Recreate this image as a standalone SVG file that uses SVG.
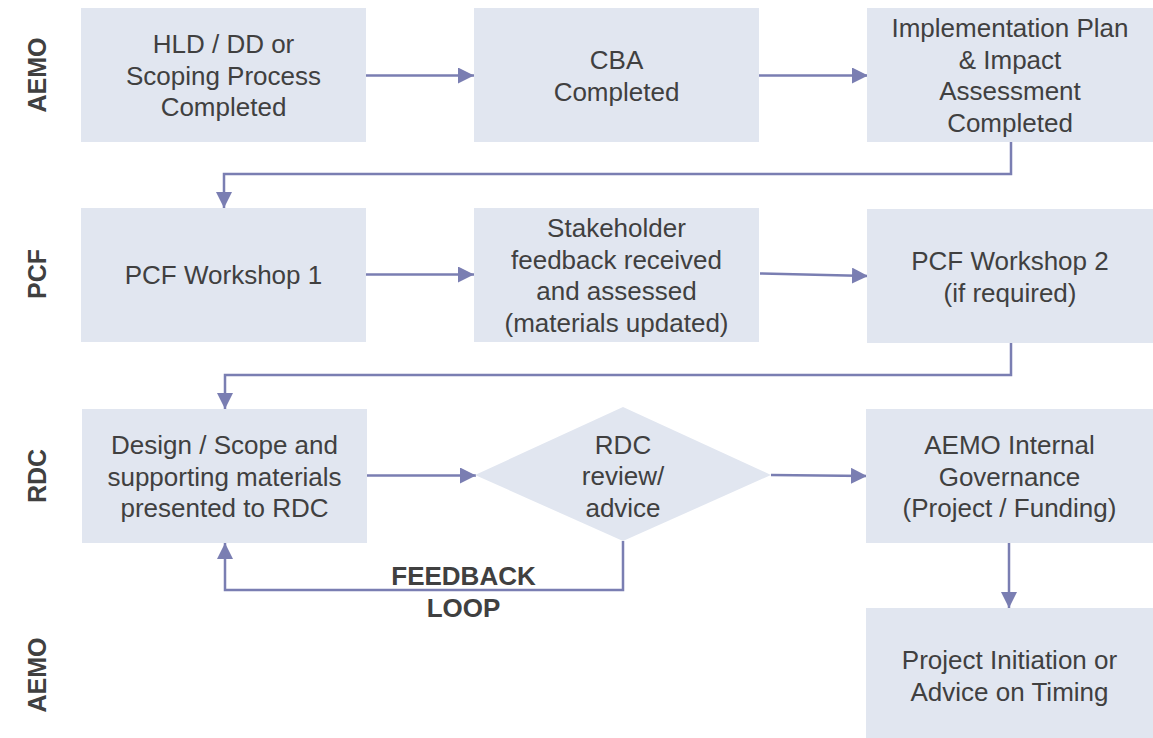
<svg xmlns="http://www.w3.org/2000/svg" width="1153" height="738" viewBox="0 0 1153 738">
  <defs>
    <style>
      .box { fill: #E1E6F0; }
      .t { font-family: "Liberation Sans", Arial, sans-serif; font-size: 26px; fill: #404040; text-anchor: middle; }
      .lane { font-family: "Liberation Sans", Arial, sans-serif; font-size: 25px; font-weight: bold; fill: #404040; text-anchor: middle; }
      .fb { font-family: "Liberation Sans", Arial, sans-serif; font-size: 26px; font-weight: bold; fill: #404040; text-anchor: middle; }
      .c { fill: none; stroke: #7A7EB2; stroke-width: 2.5; }
    </style>
    <marker id="ah" viewBox="0 0 16 16" refX="16" refY="8" markerWidth="16" markerHeight="16" markerUnits="userSpaceOnUse" orient="auto">
      <path d="M0,0 L16,8 L0,16 Z" fill="#7A7EB2"/>
    </marker>
  </defs>
  <rect width="1153" height="738" fill="#FFFFFF"/>

  <g id="lanes">
    <text class="lane" transform="translate(45.5,75) rotate(-90)">AEMO</text>
    <text class="lane" transform="translate(45.5,274) rotate(-90)">PCF</text>
    <text class="lane" transform="translate(45.5,476) rotate(-90)">RDC</text>
    <text class="lane" transform="translate(45.5,675) rotate(-90)">AEMO</text>
  </g>

  <g id="connectors">
    <path class="c" d="M366,75.5 L474,75.5" marker-end="url(#ah)"/>
    <path class="c" d="M759,75.5 L868,75.5" marker-end="url(#ah)"/>
    <path class="c" d="M1011,142 L1011,174 L224,174 L224,208" marker-end="url(#ah)"/>
    <path class="c" d="M366,274.5 L474,274.5" marker-end="url(#ah)"/>
    <path class="c" d="M760,273.5 L868,276" marker-end="url(#ah)"/>
    <path class="c" d="M1011,342 L1011,375 L225,375 L225,409" marker-end="url(#ah)"/>
    <path class="c" d="M367,475.5 L476,475.5" marker-end="url(#ah)"/>
    <path class="c" d="M771,475 L867,476" marker-end="url(#ah)"/>
    <path class="c" d="M1009,543 L1009,608" marker-end="url(#ah)"/>
    <path class="c" d="M623,541 L623,590 L225,590 L225,543" marker-end="url(#ah)"/>
  </g>

  <g id="n-hld">
    <rect class="box" x="81" y="8" width="285" height="134"/>
    <text class="t" x="223.5" y="53">HLD / DD or</text>
    <text class="t" x="223.5" y="84.5">Scoping Process</text>
    <text class="t" x="223.5" y="116">Completed</text>
  </g>
  <g id="n-cba">
    <rect class="box" x="474" y="8" width="285" height="134"/>
    <text class="t" x="616.5" y="69">CBA</text>
    <text class="t" x="616.5" y="100.5">Completed</text>
  </g>
  <g id="n-impl">
    <rect class="box" x="867" y="8" width="286" height="134"/>
    <text class="t" x="1010" y="37">Implementation Plan</text>
    <text class="t" x="1010" y="68.5">&amp; Impact</text>
    <text class="t" x="1010" y="100">Assessment</text>
    <text class="t" x="1010" y="131.5">Completed</text>
  </g>

  <g id="n-pcf1">
    <rect class="box" x="81" y="208" width="285" height="134"/>
    <text class="t" x="223.5" y="284">PCF Workshop 1</text>
  </g>
  <g id="n-stake">
    <rect class="box" x="474" y="208" width="285" height="134"/>
    <text class="t" x="616.5" y="237">Stakeholder</text>
    <text class="t" x="616.5" y="268.5">feedback received</text>
    <text class="t" x="616.5" y="300">and assessed</text>
    <text class="t" x="616.5" y="331.5">(materials updated)</text>
  </g>
  <g id="n-pcf2">
    <rect class="box" x="867" y="209" width="286" height="134"/>
    <text class="t" x="1010" y="270">PCF Workshop 2</text>
    <text class="t" x="1010" y="301.5">(if required)</text>
  </g>

  <g id="n-design">
    <rect class="box" x="82" y="409" width="285" height="134"/>
    <text class="t" x="224.5" y="454">Design / Scope and</text>
    <text class="t" x="224.5" y="485.5">supporting materials</text>
    <text class="t" x="224.5" y="517">presented to RDC</text>
  </g>
  <g id="n-review">
    <polygon class="box" points="623,407 771,475 623,541 475,475"/>
    <text class="t" x="623" y="453.5">RDC</text>
    <text class="t" x="623" y="485">review/</text>
    <text class="t" x="623" y="516.5">advice</text>
  </g>
  <g id="n-gov">
    <rect class="box" x="866" y="409" width="287" height="134"/>
    <text class="t" x="1009.5" y="454">AEMO Internal</text>
    <text class="t" x="1009.5" y="485.5">Governance</text>
    <text class="t" x="1009.5" y="517">(Project / Funding)</text>
  </g>
  <g id="n-init">
    <rect class="box" x="866" y="608" width="287" height="134"/>
    <text class="t" x="1009.5" y="669">Project Initiation or</text>
    <text class="t" x="1009.5" y="700.5">Advice on Timing</text>
  </g>

  <g id="label-feedback">
    <text class="fb" x="463.5" y="585">FEEDBACK</text>
    <text class="fb" x="463.5" y="616.5">LOOP</text>
  </g>
</svg>
